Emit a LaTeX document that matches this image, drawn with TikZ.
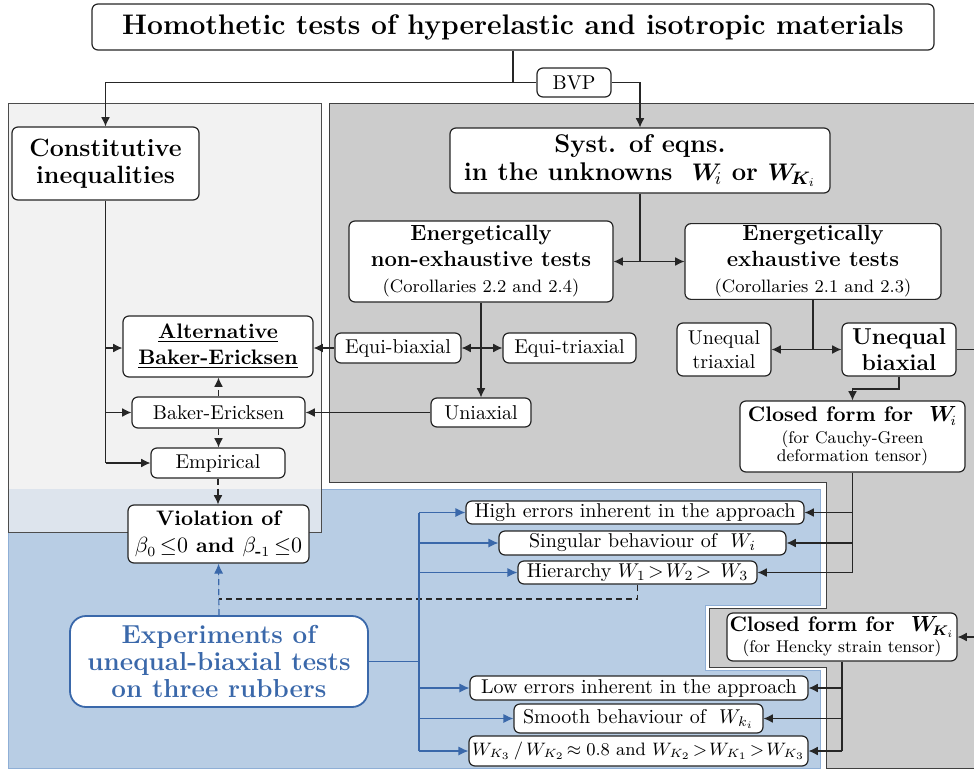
\documentclass[tikz,border=0pt]{standalone}
\usepackage{amsmath,bm}
\usetikzlibrary{arrows.meta}
\definecolor{lgray}{HTML}{F2F2F2}
\definecolor{dgray}{HTML}{CCCCCC}
\definecolor{bluebg}{HTML}{B8CDE4}
\definecolor{blueedge}{HTML}{8FAFD6}
\definecolor{overlapc}{HTML}{DDE4ED}
\definecolor{myblue}{HTML}{3A68AA}
\newcommand\fsz[2]{\fontsize{#1}{#2}\selectfont}
\begin{document}
\begin{tikzpicture}[x=0.5pt,y=-0.5pt,
 box/.style={draw=black!85, fill=white, rounded corners=3pt, line width=0.6pt, align=center, inner sep=1pt},
 sbox/.style={box, font=\fsz{10}{12}},
 arr/.style={-{Latex[length=4.6pt,width=4.4pt]}, line width=0.55pt, draw=black!85},
 barr/.style={-{Latex[length=5pt,width=4.6pt]}, line width=0.6pt, draw=myblue, fill=myblue},
 ln/.style={line width=0.55pt, draw=black!85},
 bln/.style={line width=0.6pt, draw=myblue},
 darr/.style={arr, dashed, dash pattern=on 3pt off 2pt}
]
\useasboundingbox (0,0) rectangle (974,771);
% ---------- panels
\filldraw[fill=bluebg, draw=blueedge, line width=0.5pt] (8,489) -- (820,489) -- (820,605) -- (705,605) -- (705,670) -- (820,670) -- (820,768) -- (8,768) -- cycle;
\filldraw[fill=dgray, draw=black!75, line width=0.5pt] (329,103) -- (990,103) -- (990,768) -- (826,768) -- (826,667) -- (709,667) -- (709,608) -- (826,608) -- (826,482) -- (329,482) -- cycle;
\fill[lgray] (8,103) rectangle (321,532);
\fill[overlapc] (8,489) rectangle (321,532);
\draw[black!70, line width=0.5pt] (8,103) rectangle (321,532);

% ---------- nodes
\node[box, minimum width=421pt, minimum height=23pt, font=\fsz{14.15}{16}\bfseries] (title) at (513,27) {Homothetic tests of hyperelastic and isotropic materials};
\node[sbox, minimum width=37pt, minimum height=14.5pt] (bvp) at (574,82.5) {BVP};
\node[box, minimum width=93.5pt, minimum height=36.5pt, font=\fsz{12.5}{13.5}\bfseries] (const) at (105.5,163.5) {Constitutive\\inequalities};
\node[box, minimum width=190pt, minimum height=32.5pt, font=\fsz{12.8}{14}\bfseries] (syst) at (640,160.5) {Syst. of eqns.\\ in the unknowns~~$\bm{W}_{\!i}$ or $\bm{W}_{\!\bm{K}_i}$};
\node[box, minimum width=132pt, minimum height=40.5pt, font=\fsz{11}{13}\bfseries] (nonex) at (481,261.5) {Energetically\\non-exhaustive tests\\\fsz{9}{11.5}\mdseries(Corollaries 2.2 and 2.4)};
\node[box, minimum width=128pt, minimum height=37.5pt, font=\fsz{11}{13}\bfseries] (exh) at (813,261.5) {Energetically\\exhaustive tests\\\fsz{9}{11.5}\mdseries(Corollaries 2.1 and 2.3)};
\node[sbox, minimum width=63pt, minimum height=15pt] (equibi) at (398,348) {Equi-biaxial};
\node[sbox, minimum width=66.5pt, minimum height=15pt] (equitri) at (569.5,348) {Equi-triaxial};
\node[sbox, minimum width=50pt, minimum height=14.5pt] (uni) at (481,412.5) {Uniaxial};
\node[box, minimum width=95pt, minimum height=30.5pt, font=\fsz{10.5}{13}\bfseries] (altbe) at (218,346.5) {\underline{Alternative}\\\underline{Baker-Ericksen}};
\node[sbox, minimum width=86.5pt, minimum height=15.5pt] (be) at (218.5,412.5) {Baker-Ericksen};
\node[sbox, minimum width=67pt, minimum height=15pt] (emp) at (218,463) {Empirical};
\node[box, minimum width=90.5pt, minimum height=29pt, font=\fsz{10.5}{13.5}\bfseries] (viol) at (218.5,534) {Violation of\\$\beta_0\,{\leq}0$ and $\beta_{\text{-}1}\,{\leq}0$};
\node[sbox, minimum width=47pt, minimum height=26.5pt] (uneqtri) at (724,349.5) {Unequal\\triaxial};
\node[box, minimum width=57pt, minimum height=26.5pt, font=\fsz{11.5}{13}\bfseries] (uneqbi) at (899,349.5) {Unequal\\biaxial};
\node[box, minimum width=112.5pt, minimum height=35.5pt, font=\fsz{10.5}{12.5}\bfseries] (cfwi) at (852.5,436.5) {Closed form for~~$\bm{W}_{\!i}$\\[-1.5pt]\fsz{8.5}{9.5}\mdseries(for Cauchy-Green\\[-3.5pt]\fsz{8.5}{9.5}\mdseries deformation tensor)};
\node[box, minimum width=115pt, minimum height=24pt, font=\fsz{10.5}{12}\bfseries] (cfwk) at (842,637) {Closed form for~~$\bm{W}_{\!\bm{K}_i}$\\[-1.5pt]\fsz{8.5}{9.5}\mdseries(for Hencky strain tensor)};
\node[sbox, minimum width=169pt, minimum height=11.5pt] (high) at (635,512.5) {High errors inherent in the approach};
\node[sbox, minimum width=143.5pt, minimum height=12pt] (sing) at (642.5,543) {Singular behaviour of~~$W_i$};
\node[sbox, minimum width=119.5pt, minimum height=11.5pt] (hier) at (637.5,572.5) {Hierarchy~$W_1\!>\!W_2\!>\,W_3$};
\node[sbox, minimum width=169pt, minimum height=12pt] (low) at (639,688) {Low errors inherent in the approach};
\node[sbox, minimum width=124.5pt, minimum height=14.5pt] (smooth) at (638.5,718.5) {Smooth behaviour of~~$W_{k_i}$};
\node[sbox, minimum width=169.5pt, minimum height=15pt, font=\fsz{9}{12}] (ratio) at (638.5,751) {$W_{K_3}\,/\,W_{K_2}\!\approx 0.8$ and~$W_{K_2}\!>\!W_{K_1}\!>\!W_{K_3}$};
\node[box, draw=myblue, line width=0.9pt, rounded corners=8pt, text=myblue, minimum width=149pt, minimum height=45.5pt, font=\fsz{13}{13.5}\bfseries] (exp) at (219,661.5) {Experiments of\\unequal-biaxial tests\\on three rubbers};

% ---------- connectors
\draw[ln] (title.south) -- (title.south |- bvp.center);
\draw[arr] (bvp.west) -| (const.north);
\draw[arr] (bvp.east) -| (syst.north);
\coordinate (s1) at (syst.south |- nonex.east);
\draw[ln] (syst.south) -- (s1);
\draw[arr] (s1) -- (nonex.east);
\draw[arr] (s1) -- (exh.west);
\draw[arr] (nonex.south) -- (uni.north);
\coordinate (b1) at (nonex.south |- equibi.east);
\draw[arr] (b1) -- (equibi.east);
\draw[arr] (b1) -- (equitri.west);
\draw[arr] (equibi.west) -- (equibi.west -| altbe.east);
\draw[arr] (uni.west) -- (be.east);
\draw[ln] (const.south) -- (const.south |- emp.west);
\draw[arr] (const.south |- equibi.west) -- (equibi.west -| altbe.west);
\draw[arr] (const.south |- be.west) -- (be.west);
\draw[arr] (const.south |- emp.west) -- (emp.west);
\draw[darr] (be.north) -- (be.north |- altbe.south);
\draw[darr] (be.south) -- (be.south |- emp.north);
\draw[darr] (emp.south) -- (emp.south |- viol.north);
\coordinate (e1) at (exh.south |- uneqtri.east);
\draw[ln] (exh.south) -- (e1);
\draw[arr] (e1) -- (uneqtri.east);
\draw[arr] (e1) -- (uneqbi.west);
\coordinate (r1) at (976,349.5);
\draw[arr] (uneqbi.east) -- (r1) |- (cfwk.east);
\coordinate (u1) at (899,389);
\draw[arr] (uneqbi.south) -- (u1) -| (cfwi.north);
\coordinate (c1) at (cfwi.south |- hier.east);
\draw[ln] (cfwi.south) -- (c1);
\draw[arr] (cfwi.south |- high.east) -- (high.east);
\draw[arr] (cfwi.south |- sing.east) -- (sing.east);
\draw[arr] (c1) -- (hier.east);
\coordinate (k1) at (cfwk.south |- ratio.east);
\draw[ln] (cfwk.south) -- (k1);
\draw[arr] (cfwk.south |- low.east) -- (low.east);
\draw[arr] (cfwk.south |- smooth.east) -- (smooth.east);
\draw[arr] (k1) -- (ratio.east);
\coordinate (h1) at (637.5,599);
\draw[ln, dashed, dash pattern=on 3pt off 2pt] (hier.south) -- (h1) -- (h1 -| viol.south);
\draw[barr, dashed, dash pattern=on 3pt off 2pt] (exp.north) -- (viol.south);
\coordinate (x1) at (419,661.5);
\coordinate (xt) at (419,512.5);
\coordinate (xb) at (419,751);
\draw[bln] (exp.east) -- (x1);
\draw[bln] (xt) -- (xb);
\draw[barr] (xt) -- (high.west);
\draw[barr] (xt |- sing.west) -- (sing.west);
\draw[barr] (xt |- hier.west) -- (hier.west);
\draw[barr] (xt |- low.west) -- (low.west);
\draw[barr] (xt |- smooth.west) -- (smooth.west);
\draw[barr] (xb) -- (ratio.west);
\end{tikzpicture}
\end{document}
